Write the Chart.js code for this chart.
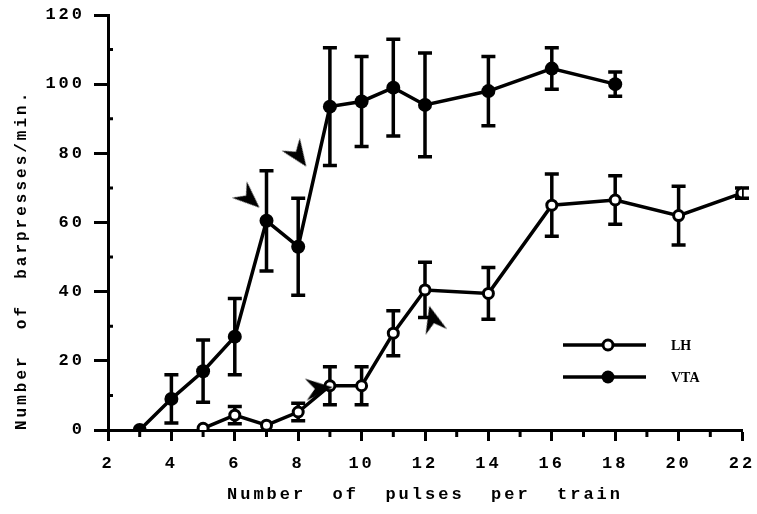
<!DOCTYPE html>
<html>
<head>
<meta charset="utf-8">
<script src="https://cdn.jsdelivr.net/npm/chart.js@4"></script>
<style>
  html, body { margin: 0; padding: 0; background: #fff; }
  #wrap { width: 757px; height: 514px; }
</style>
</head>
<body>
<div id="wrap"><canvas id="c" width="757" height="514"></canvas></div>
<script>
// Pulses per train for each group
const vtaPulses = [3, 4, 5, 6, 7, 8, 9, 10, 11, 12, 14, 16, 18];
const lhPulses  = [5, 6, 7, 8, 9, 10, 11, 12, 14, 16, 18, 20, 22];

// Mean barpresses per minute and their error (±)
const vtaMean = [0, 9, 17, 27, 60.5, 53, 93.5, 95, 99, 94, 98, 104.5, 100];
const vtaErr  = [0, 7, 9, 11, 14.5, 14, 17, 13, 14, 15, 10, 6, 3.5];
const lhMean  = [0.5, 4.3, 1.4, 5.2, 12.8, 12.8, 28, 40.5, 39.5, 65, 66.5, 62, 68.5];
const lhErr   = [0, 2.5, 0, 2.5, 5.5, 5.5, 6.5, 8, 7.5, 9, 7, 8.5, 1.5];

// Axis ticks
const xTicks = [2, 4, 6, 8, 10, 12, 14, 16, 18, 20, 22];
const yTicks = [0, 20, 40, 60, 80, 100, 120];

// Arrowhead markers (threshold indicators): position and pointing angle in degrees
const arrowPulses = [6.45, 8.0, 8.65, 12.25];
const arrowLevel  = [67, 79.5, 12, 32];
const arrowAngle  = [42, 55, -5, -105];

const FONT = "'Liberation Mono', 'DejaVu Sans Mono', monospace";

function toPoints(xs, ys) { return xs.map((x, i) => ({ x: x, y: ys[i] })); }

// dart-shaped arrowhead used as a point style
function makeDart() {
  const c = document.createElement('canvas');
  c.width = 32; c.height = 32;
  const g = c.getContext('2d');
  g.translate(16, 16);
  g.beginPath();
  g.moveTo(14, 0);
  g.lineTo(-13, -11);
  g.lineTo(-4, 0);
  g.lineTo(-13, 11);
  g.closePath();
  g.fillStyle = '#000';
  g.fill();
  return c;
}
const dart = makeDart();

const errorBars = {
  id: 'errorBars',
  beforeDatasetsDraw(chart) {
    const ctx = chart.ctx;
    const xs = chart.scales.x, ys = chart.scales.y;
    const sets = [[vtaPulses, vtaMean, vtaErr], [lhPulses, lhMean, lhErr]];
    ctx.save();
    ctx.strokeStyle = '#000';
    ctx.lineCap = 'butt';
    ctx.lineWidth = 3.5;
    sets.forEach(([px, m, e]) => {
      px.forEach((p, i) => {
        if (!e[i]) return;
        const x = xs.getPixelForValue(p);
        const y1 = ys.getPixelForValue(m[i] + e[i]);
        const y2 = ys.getPixelForValue(m[i] - e[i]);
        ctx.beginPath();
        ctx.moveTo(x, y1); ctx.lineTo(x, y2);
        ctx.moveTo(x - 7, y1); ctx.lineTo(x + 7, y1);
        ctx.moveTo(x - 7, y2); ctx.lineTo(x + 7, y2);
        ctx.stroke();
      });
    });
    ctx.restore();
  }
};

const minorTicks = {
  id: 'minorTicks',
  afterDraw(chart) {
    const ctx = chart.ctx;
    const xs = chart.scales.x, ys = chart.scales.y;
    const area = chart.chartArea;
    ctx.save();
    ctx.strokeStyle = '#000';
    ctx.lineWidth = 3;
    ctx.beginPath();
    for (let v = 3; v < 22; v += 2) {
      const x = xs.getPixelForValue(v);
      ctx.moveTo(x, area.bottom); ctx.lineTo(x, area.bottom + 7);
    }
    for (let v = 10; v < 120; v += 20) {
      const y = ys.getPixelForValue(v);
      ctx.moveTo(area.left, y); ctx.lineTo(area.left + 5, y);
    }
    ctx.stroke();
    ctx.restore();
  }
};

const legendBox = {
  id: 'legendBox',
  afterDraw(chart) {
    const ctx = chart.ctx;
    const a = chart.chartArea;
    const x0 = a.left + 455, x1 = a.left + 538, xm = a.left + 500;
    const rows = [
      { label: 'LH', y: a.top + 330, open: true },
      { label: 'VTA', y: a.top + 362, open: false }
    ];
    ctx.save();
    ctx.letterSpacing = '0px';
    rows.forEach(r => {
      ctx.strokeStyle = '#000';
      ctx.lineWidth = 3.5;
      ctx.beginPath();
      ctx.moveTo(x0, r.y); ctx.lineTo(x1, r.y);
      ctx.stroke();
      ctx.beginPath();
      ctx.arc(xm, r.y, r.open ? 5 : 6.5, 0, Math.PI * 2);
      if (r.open) {
        ctx.fillStyle = '#fff'; ctx.fill();
        ctx.lineWidth = 3; ctx.stroke();
      } else {
        ctx.fillStyle = '#000'; ctx.fill();
      }
      ctx.fillStyle = '#000';
      ctx.font = "bold 14px 'Liberation Serif', serif";
      ctx.textBaseline = 'middle';
      ctx.textAlign = 'left';
      ctx.fillText(r.label, a.left + 563, r.y + 1);
    });
    ctx.restore();
  }
};

const spacing = {
  id: 'spacing',
  beforeDraw(chart) { chart.ctx.letterSpacing = '3px'; }
};

new Chart(document.getElementById('c'), {
  type: 'scatter',
  data: {
    datasets: [
      {
        label: 'VTA',
        data: toPoints(vtaPulses, vtaMean),
        showLine: true,
        borderColor: '#000',
        borderWidth: 3.5,
        backgroundColor: '#000',
        pointRadius: 7,
        pointBorderWidth: 0,
        order: 2
      },
      {
        label: 'LH',
        data: toPoints(lhPulses, lhMean),
        showLine: true,
        borderColor: '#000',
        borderWidth: 3.5,
        backgroundColor: '#fff',
        pointBorderColor: '#000',
        pointBackgroundColor: '#fff',
        pointRadius: 5,
        pointBorderWidth: 3,
        order: 1
      },
      {
        label: 'arrows',
        data: toPoints(arrowPulses, arrowLevel),
        showLine: false,
        pointStyle: dart,
        pointRotation: arrowAngle,
        pointRadius: 13,
        order: 0
      }
    ]
  },
  options: {
    responsive: false,
    animation: false,
    devicePixelRatio: 1,
    layout: { padding: { left: 0, right: 15, top: 15, bottom: 0 } },
    plugins: {
      legend: { display: false },
      tooltip: { enabled: false }
    },
    scales: {
      x: {
        type: 'linear',
        min: 2, max: 22,
        afterBuildTicks(scale) { scale.ticks = xTicks.map(v => ({ value: v })); },
        afterFit(scale) {
          scale.height = 84;
          scale.paddingLeft = 0;
          scale.paddingRight = 0;
        },
        border: { color: '#000', width: 3 },
        grid: { drawOnChartArea: false, color: '#000', tickLength: 11, tickWidth: 3 },
        ticks: {
          color: '#000',
          padding: 13,
          maxRotation: 0,
          font: { family: FONT, size: 17, weight: 'bold' }
        },
        title: {
          display: true,
          text: 'Number  of  pulses  per  train',
          color: '#000',
          padding: { top: 10, bottom: 9 },
          font: { family: FONT, size: 17, weight: 'bold' }
        }
      },
      y: {
        min: 0, max: 120,
        afterBuildTicks(scale) { scale.ticks = yTicks.map(v => ({ value: v })); },
        afterFit(scale) {
          scale.width = 108;
          scale.paddingTop = 0;
          scale.paddingBottom = 0;
        },
        border: { color: '#000', width: 3 },
        grid: { drawOnChartArea: false, color: '#000', tickLength: 14, tickWidth: 3 },
        ticks: {
          color: '#000',
          padding: 9,
          font: { family: FONT, size: 17, weight: 'bold' }
        },
        title: {
          display: true,
          align: 'start',
          text: 'Number  of  barpresses/min.',
          color: '#000',
          padding: { top: 12, bottom: 6 },
          font: { family: FONT, size: 16, weight: 'bold' }
        }
      }
    }
  },
  plugins: [spacing, errorBars, minorTicks, legendBox]
});
</script>
</body>
</html>
